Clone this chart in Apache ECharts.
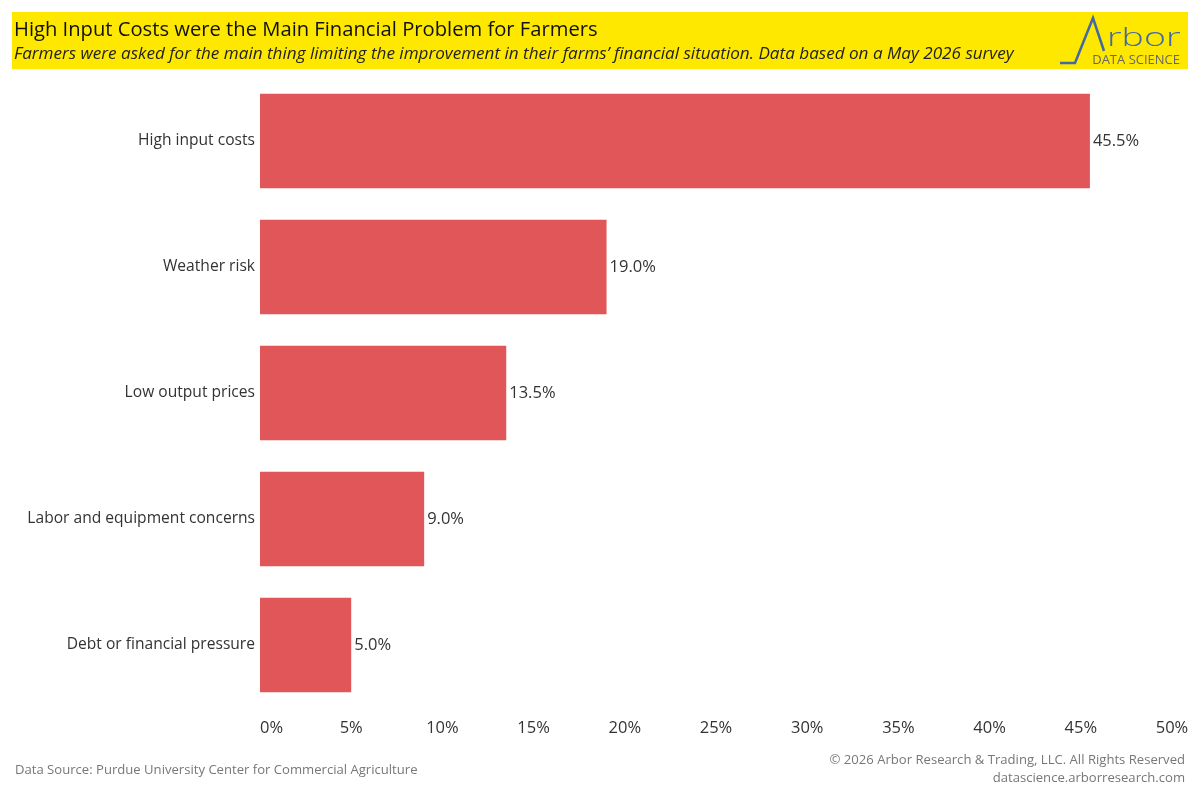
<!DOCTYPE html>
<html><head><meta charset="utf-8">
<script src="https://cdn.jsdelivr.net/npm/echarts@6/dist/echarts.min.js"></script>
<style>html,body{margin:0;padding:0;background:#fff}#c{width:1200px;height:800px}</style>
</head><body><div id="c"></div>
<script>
const categories = ["High input costs","Weather risk","Low output prices","Labor and equipment concerns","Debt or financial pressure"];
const values = [45.5, 19.0, 13.5, 9.0, 5.0];
const tickLabels = ["0%","5%","10%","15%","20%","25%","30%","35%","40%","45%","50%"];

const FONT = "'Open Sans', sans-serif";
const chart = echarts.init(document.getElementById('c'), null, {renderer:'canvas'});
chart.setOption({
  backgroundColor:'#ffffff',
  animation:false,
  grid:{left:260, right:28, top:78, bottom:92, containLabel:false},
  xAxis:{
    type:'value', min:0, max:50, interval:5,
    axisLine:{show:false}, axisTick:{show:false}, splitLine:{show:false},
    axisLabel:{
      margin:12, fontFamily:FONT, fontSize:16.5, color:'#333',
      formatter:(v)=>tickLabels[Math.round(v/5)],
      alignMinLabel:'left', alignMaxLabel:'center'
    }
  },
  yAxis:{
    type:'category', data:categories, inverse:true,
    axisLine:{show:false}, axisTick:{show:false},
    axisLabel:{margin:5, fontFamily:FONT, fontSize:15.6, color:'#333'}
  },
  series:[{
    type:'bar', data:values, barCategoryGap:'25%',
    itemStyle:{color:'#E15759'},
    label:{show:true, position:'right', distance:3, fontFamily:FONT, fontSize:16.5, color:'#333',
      formatter:(p)=>p.value.toFixed(1)+'%'}
  }],
  graphic:[
    {type:'rect', shape:{x:12,y:12,width:1176,height:57}, style:{fill:'#FFE800'}, z:0},
    {type:'text', x:14, y:30, style:{text:'High Input Costs were the Main Financial Problem for Farmers', fontFamily:FONT, fontSize:20.2, fill:'#111', verticalAlign:'middle'}},
    {type:'text', x:14, y:54, style:{text:'Farmers were asked for the main thing limiting the improvement in their farms\u2019 financial situation. Data based on a May 2026 survey', fontFamily:FONT, fontStyle:'italic', fontSize:17.1, fill:'#222', verticalAlign:'middle'}},
    {type:'polyline', shape:{points:[[1060,63],[1075,63],[1093,18],[1104,51]]}, style:{stroke:'#3F6AA6', lineWidth:2.5, fill:null}},
    {type:'text', x:1107, y:51, scaleX:1.5, style:{text:'rbor', fontFamily:FONT, fontWeight:300, fontSize:25, fill:'#3F6AA6', verticalAlign:'bottom'}},
    {type:'text', x:1180, y:60, style:{text:'DATA SCIENCE', fontFamily:FONT, fontSize:13, fill:'#666', align:'right', verticalAlign:'middle'}},
    {type:'text', x:15, y:770, style:{text:'Data Source: Purdue University Center for Commercial Agriculture', fontFamily:FONT, fontSize:13.1, fill:'#777', verticalAlign:'middle'}},
    {type:'text', x:1185, y:760, style:{text:'\u00A9 2026 Arbor Research & Trading, LLC. All Rights Reserved', fontFamily:FONT, fontSize:13.1, fill:'#777', align:'right', verticalAlign:'middle'}},
    {type:'text', x:1185, y:778, style:{text:'datascience.arborresearch.com', fontFamily:FONT, fontSize:13.1, fill:'#777', align:'right', verticalAlign:'middle'}}
  ]
});
</script></body></html>
